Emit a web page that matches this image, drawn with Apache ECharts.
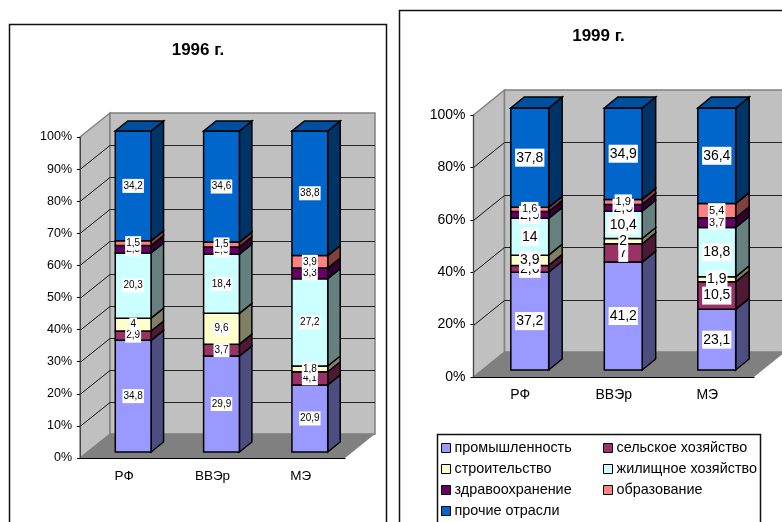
<!DOCTYPE html>
<html>
<head>
<meta charset="utf-8">
<style>
  html, body { margin: 0; padding: 0; background: #fff; }
  #chart { width: 782px; height: 522px; }
</style>
<script src="https://cdn.jsdelivr.net/npm/echarts@6/dist/echarts.min.js"></script>
</head>
<body>
<div id="chart"></div>
<script>
const categories = ["РФ", "ВВЭр", "МЭ"];
const seriesNames = ["промышленность", "сельское хозяйство", "строительство", "жилищное хозяйство", "здравоохранение", "образование", "прочие отрасли"];

const industry96 = [34.8, 29.9, 20.9];
const agriculture96 = [2.9, 3.7, 4.1];
const building96 = [4, 9.6, 1.8];
const housing96 = [20.3, 18.4, 27.2];
const health96 = [2.3, 2.3, 3.3];
const education96 = [1.5, 1.5, 3.9];
const other96 = [34.2, 34.6, 38.8];

const industry99 = [37.2, 41.2, 23.1];
const agriculture99 = [2.6, 7, 10.5];
const building99 = [3.9, 2, 1.9];
const housing99 = [14, 10.4, 18.8];
const health99 = [2.6, 2.6, 3.7];
const education99 = [1.6, 1.9, 5.4];
const other99 = [37.8, 34.9, 36.4];

const ticks96 = [0, 10, 20, 30, 40, 50, 60, 70, 80, 90, 100];
const ticks99 = [0, 20, 40, 60, 80, 100];

const frontColors = ["#9999ff", "#993366", "#ffffcc", "#ccffff", "#660066", "#ff8080", "#0066cc"];
const sideColors = ["#4d4d80", "#4d1a33", "#808066", "#668080", "#330033", "#804040", "#003366"];
const topColor = "#004f9f";

const fontFamily = "Liberation Sans, Arial, sans-serif";

// 3d look: pixel offsets of the depth, all marks still go through api.coord
const chart96 = {
  grid: 0, ticks: ticks96, rows: [industry96, agriculture96, building96, housing96, health96, education96, other96],
  depth: [30, 24], barShift: [9, 6], barDepth: [12.5, 10], labelSize: 10, smallLabels: [],
};
const chart99 = {
  grid: 1, ticks: ticks99, rows: [industry99, agriculture99, building99, housing99, health99, education99, other99],
  depth: [31, 25], barShift: [9.5, 7], barDepth: [13.5, 11], labelSize: 14, smallLabels: ["0-5", "1-5", "2-4", "2-5"],
};

const poly = (points, fill, stroke, lineWidth) => ({
  type: "polygon",
  shape: { points },
  style: { fill, stroke: stroke || null, lineWidth: lineWidth || 0 },
});

const line = (x1, y1, x2, y2, color) => ({
  type: "line",
  shape: { x1, y1, x2, y2 },
  style: { stroke: color, lineWidth: 1 },
});

const wallSeries = (cfg) => ({
  type: "custom",
  xAxisIndex: cfg.grid,
  yAxisIndex: cfg.grid,
  z: 1,
  silent: true,
  data: [[0, 0]],
  renderItem: (params, api) => {
    const box = params.coordSys;
    const [dx, dy] = cfg.depth;
    const left = box.x;
    const right = box.x + box.width;
    const top = api.coord([0, 100])[1];
    const bottom = api.coord([0, 0])[1];
    const children = [
      poly([[left, top], [left + dx, top - dy], [left + dx, bottom - dy], [left, bottom]], "#c0c0c0", "#808080", 1.5),
      poly([[left + dx, top - dy], [right + dx, top - dy], [right + dx, bottom - dy], [left + dx, bottom - dy]], "#c0c0c0", "#808080", 1.5),
      poly([[left, bottom], [right, bottom], [right + dx, bottom - dy], [left + dx, bottom - dy]], "#808080"),
    ];
    cfg.ticks.slice(1, -1).forEach((tick) => {
      const y = Math.round(api.coord([0, tick])[1]) + 0.5;
      children.push(line(left, y, left + dx, y - dy, "#111"));
      children.push(line(left + dx, y - dy, right + dx, y - dy, "#222"));
    });
    return { type: "group", children };
  },
});

const segmentData = (cfg, s) => categories.map((_, i) => {
  const total = cfg.rows.reduce((sum, row) => sum + row[i], 0);
  const base = cfg.rows.slice(0, s).reduce((sum, row) => sum + row[i], 0);
  return [i, (base / total) * 100, ((base + cfg.rows[s][i]) / total) * 100, cfg.rows[s][i]];
});

const barSeries = (cfg, s) => ({
  type: "custom",
  name: seriesNames[s],
  xAxisIndex: cfg.grid,
  yAxisIndex: cfg.grid,
  z: 3,
  itemStyle: { color: frontColors[s] },
  data: segmentData(cfg, s),
  renderItem: (params, api) => {
    const [cx, y0] = api.coord([api.value(0), api.value(1)]);
    const y1 = api.coord([api.value(0), api.value(2)])[1];
    const half = api.size([1, 0])[0] * 0.405 / 2;
    const x = cx + cfg.barShift[0];
    const bottom = y0 - cfg.barShift[1];
    const top = y1 - cfg.barShift[1];
    const [bx, by] = cfg.barDepth;
    const children = [
      poly([[x + half, bottom], [x + half + bx, bottom - by], [x + half + bx, top - by], [x + half, top]], sideColors[s], "#000", 1.5),
      poly([[x - half, bottom], [x + half, bottom], [x + half, top], [x - half, top]], frontColors[s], "#000", 1.5),
    ];
    if (s === seriesNames.length - 1) {
      children.push(poly([[x - half, top], [x + half, top], [x + half + bx, top - by], [x - half + bx, top - by]], topColor, "#000", 1.5));
    }
    return { type: "group", children };
  },
});

const labelSeries = (cfg, s) => ({
  type: "custom",
  xAxisIndex: cfg.grid,
  yAxisIndex: cfg.grid,
  z: 4 + s,
  silent: true,
  data: segmentData(cfg, s),
  renderItem: (params, api) => {
    const [cx, y] = api.coord([api.value(0), (api.value(1) + api.value(2)) / 2]);
    const small = cfg.smallLabels.includes(api.value(0) + "-" + s);
    return {
      type: "text",
      style: {
        text: String(api.value(3)).replace(".", ","),
        x: cx + cfg.barShift[0],
        y: y - cfg.barShift[1],
        align: "center",
        verticalAlign: "middle",
        fontFamily,
        fontSize: small ? cfg.labelSize - 3 : cfg.labelSize,
        fill: "#000",
        backgroundColor: "#fff",
        padding: [2, 1],
      },
    };
  },
});

const axesFor = (cfg, labelSize, xLabelSize) => ({
  xAxis: {
    type: "category",
    gridIndex: cfg.grid,
    data: categories,
    z: 6,
    axisLine: { lineStyle: { color: "#000", width: 1 } },
    axisTick: { length: 4, lineStyle: { color: "#000" } },
    axisLabel: { color: "#000", fontFamily, fontSize: xLabelSize, margin: 11 },
  },
  yAxis: {
    type: "value",
    gridIndex: cfg.grid,
    min: 0,
    max: 100,
    interval: cfg.ticks[1],
    z: 6,
    splitLine: { show: false },
    axisLine: { show: true, lineStyle: { color: "#444", width: 1 } },
    axisTick: { show: true, length: 3, lineStyle: { color: "#000" } },
    axisLabel: { color: "#000", fontFamily, fontSize: labelSize, margin: 8, formatter: "{value}%" },
  },
});

const axes96 = axesFor(chart96, 12.5, 13.5);
const axes99 = axesFor(chart99, 14, 14);

const legendBase = {
  orient: "vertical",
  selectedMode: false,
  icon: "rect",
  itemWidth: 9,
  itemHeight: 9,
  itemGap: 5,
  padding: 0,
  itemStyle: { borderColor: "#000", borderWidth: 1 },
  textStyle: { color: "#000", fontFamily, fontSize: 14.4, lineHeight: 16, padding: [0, 0, 0, -1] },
};

const panel = (x, y, width, height) => ({
  type: "rect",
  z: -1,
  shape: { x, y, width, height },
  style: { fill: "#fff", stroke: "#111", lineWidth: 1.5 },
});

const title = (text, x, y) => ({
  type: "text",
  z: 10,
  style: { text, x, y, align: "center", verticalAlign: "middle", fontFamily, fontSize: 17, fontWeight: "bold", fill: "#000" },
});

const allSeries = [];
[chart96, chart99].forEach((cfg) => {
  allSeries.push(wallSeries(cfg));
  seriesNames.forEach((_, s) => allSeries.push(barSeries(cfg, s)));
  seriesNames.forEach((_, s) => allSeries.push(labelSeries(cfg, s)));
});

const chartInstance = echarts.init(document.getElementById("chart"), null, { renderer: "canvas" });

chartInstance.setOption({
  animation: false,
  tooltip: { show: false },
  grid: [
    { left: 80, top: 137, width: 265, height: 321 },
    { left: 473.5, top: 115, width: 280.5, height: 262 },
  ],
  xAxis: [axes96.xAxis, axes99.xAxis],
  yAxis: [axes96.yAxis, axes99.yAxis],
  legend: [
    { ...legendBase, left: 441, top: 440, data: [seriesNames[0], seriesNames[2], seriesNames[4], seriesNames[6]] },
    { ...legendBase, left: 603, top: 440, data: [seriesNames[1], seriesNames[3], seriesNames[5]] },
  ],
  graphic: {
    elements: [
      panel(9.5, 24.5, 377, 600),
      panel(399.5, 10.5, 500, 600),
      panel(437.5, 434.5, 323, 100),
      title("1996 г.", 198, 50),
      title("1999 г.", 598.5, 36),
    ],
  },
  series: allSeries,
});
</script>
</body>
</html>
